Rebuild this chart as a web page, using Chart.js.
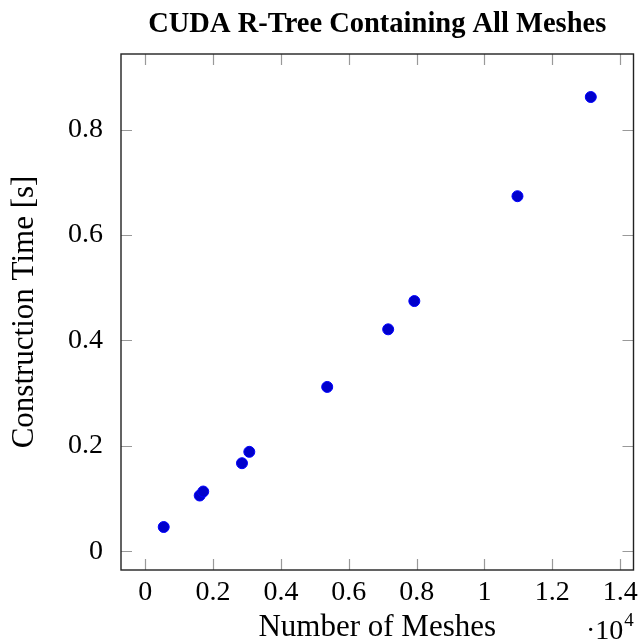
<!DOCTYPE html>
<html>
<head>
<meta charset="utf-8">
<script src="https://cdn.jsdelivr.net/npm/chart.js@4"></script>
<style>
  html, body { margin: 0; padding: 0; background: #fff; }
  #wrap { width: 640px; height: 644px; }
</style>
</head>
<body>
<div id="wrap"><canvas id="meshChart" width="640" height="644"></canvas></div>
<script>
// Data (x = number of meshes, y = seconds)
const meshCounts = [545, 1606, 1710, 2852, 3068, 5364, 7161, 7932, 10972, 13133];
const buildTimes = [0.046, 0.1057, 0.1133, 0.167, 0.1886, 0.3117, 0.421, 0.4746, 0.6735, 0.8617];
const xTickValues = [0, 2000, 4000, 6000, 8000, 10000, 12000, 14000];
const yTickValues = [0, 0.2, 0.4, 0.6, 0.8];

const FONT = "'Liberation Serif', 'Times New Roman', serif";

// pgfplots style: limits enlarged by 10% of the data range
function enlarged(values) {
  const lo = Math.min(...values), hi = Math.max(...values);
  const pad = (hi - lo) * 0.1;
  return { min: lo - pad, max: hi + pad };
}
const xLim = enlarged(meshCounts);
const yLim = enlarged(buildTimes);

/**
 * Draw the frame, inward tick marks on all four sides and the x10^4 label
 */
const frameTicks = {
  id: 'frameTicks',
  afterDraw(chart) {
    const { ctx, chartArea: a, scales } = chart;
    const len = 11;
    ctx.save();
    ctx.strokeStyle = '#999';
    ctx.lineWidth = 1.2;
    ctx.beginPath();
    scales.x.ticks.forEach(t => {
      const px = Math.round(scales.x.getPixelForValue(t.value)) + 0.5;
      ctx.moveTo(px, a.bottom); ctx.lineTo(px, a.bottom - len);
      ctx.moveTo(px, a.top); ctx.lineTo(px, a.top + len);
    });
    scales.y.ticks.forEach(t => {
      const py = Math.round(scales.y.getPixelForValue(t.value)) + 0.5;
      ctx.moveTo(a.left, py); ctx.lineTo(a.left + len, py);
      ctx.moveTo(a.right, py); ctx.lineTo(a.right - len, py);
    });
    ctx.stroke();

    ctx.strokeStyle = '#222';
    ctx.lineWidth = 1.4;
    ctx.strokeRect(a.left, a.top, a.right - a.left, a.bottom - a.top);

    // exponent label under the right end of the x axis
    ctx.fillStyle = '#000';
    ctx.textBaseline = 'alphabetic';
    ctx.textAlign = 'left';
    ctx.font = '28px ' + FONT;
    ctx.fillText('\u00b710', 586, 639);
    const w = ctx.measureText('\u00b710').width;
    ctx.font = '19px ' + FONT;
    ctx.fillText('4', 586 + w + 1, 626);
    ctx.restore();
  }
};

const ctx = document.getElementById('meshChart').getContext('2d');
const chart = new Chart(ctx, {
  type: 'scatter',
  data: {
    datasets: [{
      label: 'CUDA R-Tree',
      data: meshCounts.map((m, i) => ({ x: m, y: buildTimes[i] })),
      backgroundColor: '#0000cc',
      borderColor: '#0000ff',
      borderWidth: 1,
      pointRadius: 5.5,
      pointHoverRadius: 5.5
    }]
  },
  options: {
    responsive: false,
    animation: false,
    layout: { padding: { left: 0, right: 5, top: 0, bottom: 0 } },
    plugins: {
      legend: { display: false },
      tooltip: { enabled: false },
      title: {
        display: true,
        fullSize: false,
        text: 'CUDA R-Tree Containing All Meshes',
        color: '#000',
        font: { family: FONT, size: 28.5, weight: 'bold', lineHeight: 1.2 },
        padding: { top: 8, bottom: 11.8 }
      }
    },
    scales: {
      x: {
        type: 'linear',
        min: xLim.min,
        max: xLim.max,
        afterBuildTicks(scale) { scale.ticks = xTickValues.map(v => ({ value: v })); },
        afterFit(scale) {
          scale.height = 74;
          scale.paddingLeft = 0;
          scale.paddingRight = 0;
        },
        grid: { display: false },
        border: { display: false },
        ticks: {
          padding: -2,
          color: '#000',
          font: { family: FONT, size: 28 },
          maxRotation: 0,
          autoSkip: false,
          callback: v => String(+(v / 10000).toFixed(2))
        },
        title: {
          display: true,
          text: 'Number of Meshes',
          color: '#000',
          font: { family: FONT, size: 31, lineHeight: 1.0 },
          padding: { top: 0, bottom: 1 }
        }
      },
      y: {
        type: 'linear',
        min: yLim.min,
        max: yLim.max,
        afterBuildTicks(scale) { scale.ticks = yTickValues.map(v => ({ value: v })); },
        afterFit(scale) {
          scale.width = 121;
          scale.paddingTop = 0;
          scale.paddingBottom = 0;
        },
        grid: { display: false },
        border: { display: false },
        ticks: {
          padding: 10,
          color: '#000',
          font: { family: FONT, size: 28 },
          callback: v => String(+v.toFixed(2))
        },
        title: {
          display: true,
          text: 'Construction Time [s]',
          color: '#000',
          font: { family: FONT, size: 31, lineHeight: 1.2 },
          padding: { top: 6, bottom: 0 }
        }
      }
    }
  },
  plugins: [frameTicks]
});
</script>
</body>
</html>
